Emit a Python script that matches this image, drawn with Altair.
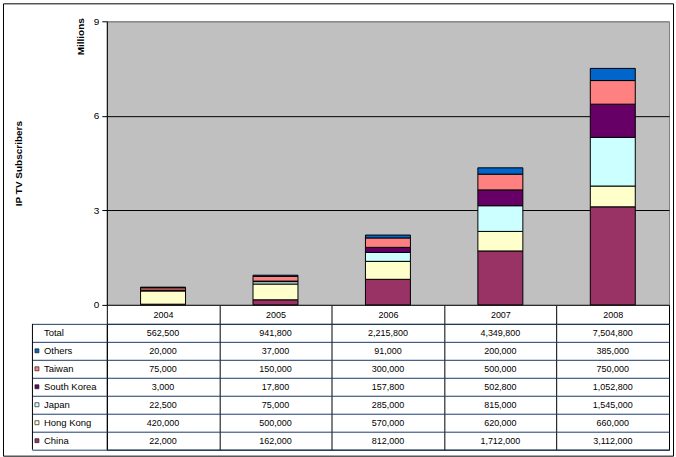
import altair as alt
import pandas as pd

FONT = "Liberation Sans"
NAVY = "#1B3A6B"

years = ["2004", "2005", "2006", "2007", "2008"]
series = ["China", "Hong Kong", "Japan", "South Korea", "Taiwan", "Others"]  # stacked bottom -> top
colors = ["#993366", "#FFFFCC", "#CCFFFF", "#660066", "#FF8080", "#0066CC"]

china = [22000, 162000, 812000, 1712000, 3112000]
hong_kong = [420000, 500000, 570000, 620000, 660000]
japan = [22500, 75000, 285000, 815000, 1545000]
south_korea = [3000, 17800, 157800, 502800, 1052800]
taiwan = [75000, 150000, 300000, 500000, 750000]
others = [20000, 37000, 91000, 200000, 385000]
totals = [562500, 941800, 2215800, 4349800, 7504800]

table_rows = ["Total", "Others", "Taiwan", "South Korea", "Japan", "Hong Kong", "China"]
y_ticks = [0, 3, 6, 9]
y_title = "IP TV Subscribers"
unit_label = ["Millions"]

values = {
    "China": china,
    "Hong Kong": hong_kong,
    "Japan": japan,
    "South Korea": south_korea,
    "Taiwan": taiwan,
    "Others": others,
}

bar_records = []
for si, s in enumerate(series):
    for yi, yr in enumerate(years):
        v = values[s][yi]
        bar_records.append({"series": s, "year": yr, "value": v,
                            "millions": v / 1e6, "order": si})
bars_df = pd.DataFrame(bar_records)

table_records = [{"row": "Total", "year": yr, "value": t} for yr, t in zip(years, totals)]
for s in series:
    for yi, yr in enumerate(years):
        table_records.append({"row": s, "year": yr, "value": values[s][yi]})
table_df = pd.DataFrame(table_records)
sq_df = pd.DataFrame({"row": series})
one = pd.DataFrame({"a": [0]})

color_scale = alt.Scale(domain=series, range=colors)
band_x = alt.Scale(paddingInner=0, paddingOuter=0)

# ---------- top: stacked bars ----------
frame = alt.Chart(one).mark_rect(fillOpacity=0, stroke="black", strokeWidth=1).encode(
    x=alt.value(-103.5), x2=alt.value(567.5), y=alt.value(-17.5), y2=alt.value(435.5)
)

bars = alt.Chart(bars_df).mark_bar(
    width=alt.RelativeBandSize(0.4), stroke="black", strokeWidth=1
).encode(
    x=alt.X("year:N", sort=years, scale=band_x,
            axis=alt.Axis(title=None, labelAngle=0, tickBand="extent", tickSize=19,
                          tickColor="black", domainColor="#333333", labelFontSize=9,
                          labelBaseline="middle", labelPadding=-9.5, labelColor="black",
                          labelFont=FONT)),
    y=alt.Y("millions:Q", stack="zero", scale=alt.Scale(domain=[0, 9], nice=False),
            axis=alt.Axis(values=y_ticks, title=y_title, titleAngle=270, titleX=-88,
                          titleY=142, titleFontSize=10, titleFontWeight="bold",
                          titleFont=FONT, titleAlign="center", titleBaseline="middle",
                          titleColor="black",
                          labelFontSize=10, labelFont=FONT, labelColor="black",
                          labelPadding=3, tickSize=5, tickColor="black",
                          domainColor="black", grid=True,
                          gridColor={"condition": {"test": "datum.value == 9", "value": "#808080"},
                                     "value": "black"})),
    color=alt.Color("series:N", scale=color_scale, legend=None),
    order=alt.Order("order:Q", sort="ascending"),
)

millions = alt.Chart(pd.DataFrame({"label": unit_label})).mark_text(
    angle=270, fontSize=10, fontWeight="bold", font=FONT, align="center",
    baseline="middle", color="black"
).encode(text="label:N", x=alt.value(-25.7), y=alt.value(15.5))

top = alt.layer(frame, bars, millions).properties(
    width=563, height=284,
    view=alt.ViewBackground(fill="#C0C0C0", stroke="#808080"),
)

# ---------- bottom: data table ----------
table_text = alt.Chart(table_df).mark_text(fontSize=9, font=FONT, color="black").encode(
    x=alt.X("year:N", sort=years, scale=band_x,
            axis=alt.Axis(title=None, labels=False, ticks=False, domain=False, grid=True,
                          tickBand="extent", gridColor="black", gridWidth=1)),
    y=alt.Y("row:N", sort=table_rows, scale=alt.Scale(paddingInner=0, paddingOuter=0),
            axis=alt.Axis(title=None, domain=False, grid=True, tickBand="extent",
                          gridColor=NAVY, tickColor=NAVY, tickSize=75, labelAlign="left",
                          labelBaseline="middle", labelPadding=-11.5, labelFontSize=9.5,
                          labelFont=FONT, labelColor="black")),
    text=alt.Text("value:Q", format=","),
)

squares = alt.Chart(sq_df).mark_square(size=16, stroke="#222222", strokeWidth=0.7, opacity=1).encode(
    x=alt.value(-70),
    y=alt.Y("row:N", sort=table_rows),
    color=alt.Color("row:N", scale=color_scale, legend=None),
)

left_rule = alt.Chart(one).mark_rule(color="black", strokeWidth=1).encode(
    x=alt.value(-74.5), y=alt.value(0), y2=alt.value(126)
)

table = alt.layer(table_text, squares, left_rule).properties(
    width=563, height=126,
    view=alt.ViewBackground(fill="white", stroke="black"),
)

chart = alt.vconcat(top, table, spacing=19, bounds="flush").resolve_scale(
    color="independent"
).properties(
    padding={"left": 2, "top": 2, "right": 1, "bottom": 0},
    background="white",
)

chart.save("out.html", embed_options={"renderer": "svg", "actions": False})
